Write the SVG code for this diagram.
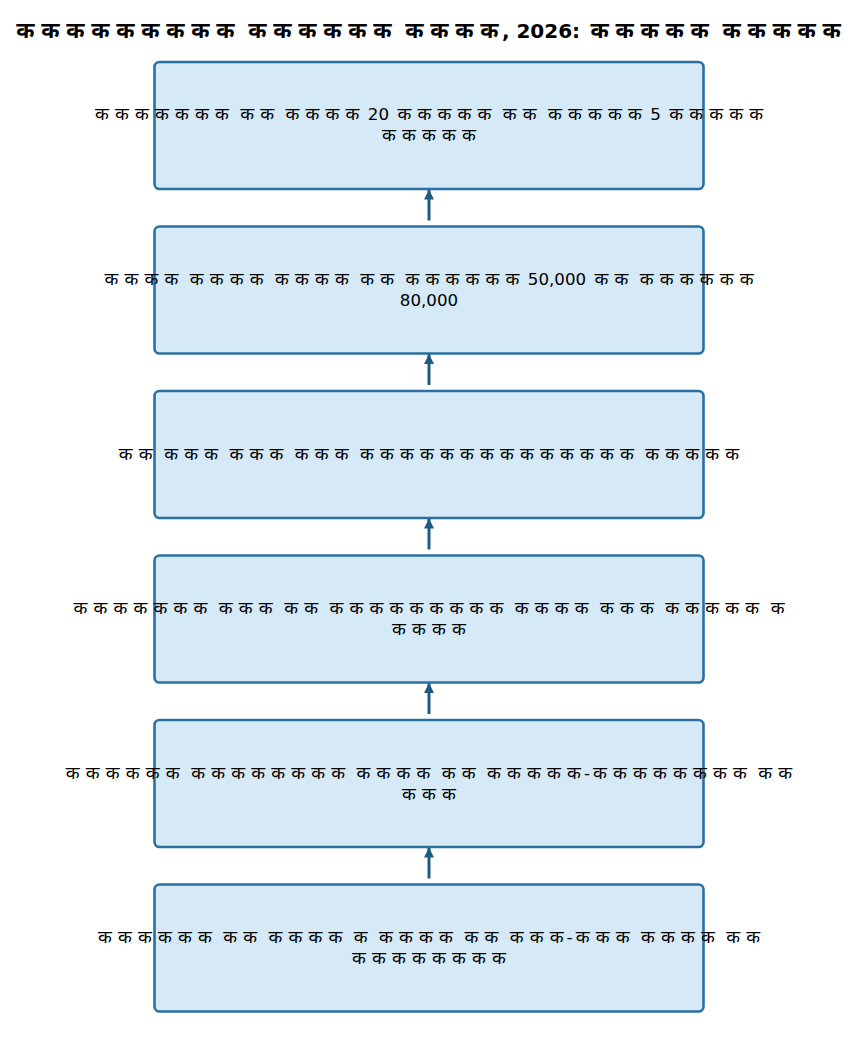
<svg xmlns="http://www.w3.org/2000/svg" width="858" height="1053" viewBox="0 0 858 1053">
  <defs>
    <style>
      .node rect { fill: #d6e9f7; stroke: #2b70a3; stroke-width: 2.6; }
      .lbl { font-family: "DejaVu Sans", "Noto Sans", sans-serif; font-size: 16.67px; fill: #000; text-anchor: middle; }
      .title { font-family: "DejaVu Sans", "Noto Sans", sans-serif; font-size: 20px; font-weight: bold; fill: #000; text-anchor: middle; }
      .d { font-size: 18px; }
      .td { font-size: 22px; }
      .conn { stroke: #1f5a80; stroke-width: 3; fill: none; marker-end: url(#arr); }
    </style>
    <marker id="arr" viewBox="0 0 10 10" refX="10" refY="5" markerWidth="10" markerHeight="10" markerUnits="userSpaceOnUse" orient="auto">
      <path d="M0,0 L10,5 L0,10 z" fill="#1f5a80"/>
    </marker>
  </defs>
  <rect width="858" height="1053" fill="#ffffff"/>
  <text class="title" y="38"><tspan class="td" x="25.46 50.46 75.46 100.46 125.46 150.46 175.46 200.46 225.46 241.44">ककककककककक </tspan><tspan class="td" x="257.42 282.42 307.42 332.42 357.42 382.42 398.4">कककककक </tspan><tspan class="td" x="414.38 439.38 464.38 489.38">कककक</tspan><tspan x="505.68 512.96 523.4 537.32 551.24 565.16 576.12 583.6">, 2026: </tspan><tspan class="td" x="599.58 624.58 649.58 674.58 699.58 715.56">ककककक </tspan><tspan class="td" x="731.54 756.54 781.54 806.54 831.54">ककककक</tspan></text>

  <g id="connectors">
    <path class="conn" d="M429,220.5 L429,189.5"/>
    <path class="conn" d="M429,385 L429,354"/>
    <path class="conn" d="M429,549.5 L429,518.5"/>
    <path class="conn" d="M429,714 L429,683"/>
    <path class="conn" d="M429,878.5 L429,847.5"/>
  </g>

  <g id="node1" class="node">
    <rect x="154.5" y="62" width="549" height="127" rx="5"/>
    <text class="lbl" y="120"><tspan class="d" x="101.9 121.9 141.9 161.9 181.9 201.9 221.9 234.55">ककककककक </tspan><tspan class="d" x="247.2 267.2 279.85">कक </tspan><tspan class="d" x="292.5 312.5 332.5 352.5 365.15">कककक </tspan><tspan x="373.1 383.7 391.65">20 </tspan><tspan class="d" x="404.3 424.3 444.3 464.3 484.3 496.95">ककककक </tspan><tspan class="d" x="509.6 529.6 542.25">कक </tspan><tspan class="d" x="554.9 574.9 594.9 614.9 634.9 647.55">ककककक </tspan><tspan x="655.5 663.45">5 </tspan><tspan class="d" x="676.1 696.1 716.1 736.1 756.1">ककककक</tspan></text>
    <text class="lbl" y="141"><tspan class="d" x="389 409 429 449 469">ककककक</tspan></text>
  </g>
  <g id="node2" class="node">
    <rect x="154.5" y="226.5" width="549" height="127" rx="5"/>
    <text class="lbl" y="285"><tspan class="d" x="111.3 131.3 151.3 171.3 183.95">कककक </tspan><tspan class="d" x="196.6 216.6 236.6 256.6 269.25">कककक </tspan><tspan class="d" x="281.9 301.9 321.9 341.9 354.55">कककक </tspan><tspan class="d" x="367.2 387.2 399.85">कक </tspan><tspan class="d" x="412.5 432.5 452.5 472.5 492.5 512.5 525.15">कककककक </tspan><tspan x="533.1 543.7 551.65 559.6 570.2 580.8 588.75">50,000 </tspan><tspan class="d" x="601.4 621.4 634.05">कक </tspan><tspan class="d" x="646.7 666.7 686.7 706.7 726.7 746.7">कककककक</tspan></text>
    <text class="lbl" x="429" y="306">80,000</text>
  </g>
  <g id="node3" class="node">
    <rect x="154.5" y="391" width="549" height="127" rx="5"/>
    <text class="lbl" y="460"><tspan class="d" x="125.75 145.75 158.4">कक </tspan><tspan class="d" x="171.05 191.05 211.05 223.7">ककक </tspan><tspan class="d" x="236.35 256.35 276.35 289">ककक </tspan><tspan class="d" x="301.65 321.65 341.65 354.3">ककक </tspan><tspan class="d" x="366.95 386.95 406.95 426.95 446.95 466.95 486.95 506.95 526.95 546.95 566.95 586.95 606.95 626.95 639.6">कककककककककककककक </tspan><tspan class="d" x="652.25 672.25 692.25 712.25 732.25">ककककक</tspan></text>
  </g>
  <g id="node4" class="node">
    <rect x="154.5" y="555.5" width="549" height="127" rx="5"/>
    <text class="lbl" y="614"><tspan class="d" x="80.45 100.45 120.45 140.45 160.45 180.45 200.45 213.1">ककककककक </tspan><tspan class="d" x="225.75 245.75 265.75 278.4">ककक </tspan><tspan class="d" x="291.05 311.05 323.7">कक </tspan><tspan class="d" x="336.35 356.35 376.35 396.35 416.35 436.35 456.35 476.35 496.35 509">ककककककककक </tspan><tspan class="d" x="521.65 541.65 561.65 581.65 594.3">कककक </tspan><tspan class="d" x="606.95 626.95 646.95 659.6">ककक </tspan><tspan class="d" x="672.25 692.25 712.25 732.25 752.25 764.9">ककककक </tspan><tspan class="d" x="777.55">क</tspan></text>
    <text class="lbl" y="635"><tspan class="d" x="399 419 439 459">कककक</tspan></text>
  </g>
  <g id="node5" class="node">
    <rect x="154.5" y="720" width="549" height="127" rx="5"/>
    <text class="lbl" y="778.5"><tspan class="d" x="72.75 92.75 112.75 132.75 152.75 172.75 185.4">कककककक </tspan><tspan class="d" x="198.05 218.05 238.05 258.05 278.05 298.05 318.05 338.05 350.7">कककककककक </tspan><tspan class="d" x="363.35 383.35 403.35 423.35 436">कककक </tspan><tspan class="d" x="448.65 468.65 481.3">कक </tspan><tspan class="d" x="493.95 513.95 533.95 553.95 573.95">ककककक</tspan><tspan x="586.96">-</tspan><tspan class="d" x="599.97 619.97 639.97 659.97 679.97 699.97 719.97 739.97 752.62">कककककककक </tspan><tspan class="d" x="765.27 785.27">कक</tspan></text>
    <text class="lbl" y="799.5"><tspan class="d" x="409 429 449">ककक</tspan></text>
  </g>
  <g id="node6" class="node">
    <rect x="154.5" y="884.5" width="549" height="127" rx="5"/>
    <text class="lbl" y="943"><tspan class="d" x="104.8 124.8 144.8 164.8 184.8 204.8 217.45">कककककक </tspan><tspan class="d" x="230.1 250.1 262.75">कक </tspan><tspan class="d" x="275.4 295.4 315.4 335.4 348.05">कककक </tspan><tspan class="d" x="360.7 373.35">क </tspan><tspan class="d" x="386 406 426 446 458.65">कककक </tspan><tspan class="d" x="471.3 491.3 503.95">कक </tspan><tspan class="d" x="516.6 536.6 556.6">ककक</tspan><tspan x="569.61">-</tspan><tspan class="d" x="582.62 602.62 622.62 635.27">ककक </tspan><tspan class="d" x="647.92 667.92 687.92 707.92 720.57">कककक </tspan><tspan class="d" x="733.22 753.22">कक</tspan></text>
    <text class="lbl" y="964"><tspan class="d" x="359 379 399 419 439 459 479 499">कककककककक</tspan></text>
  </g>
</svg>
